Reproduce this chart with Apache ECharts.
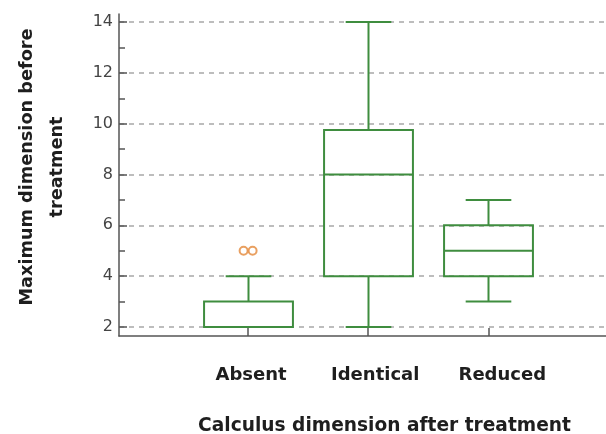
<!DOCTYPE html>
<html>
<head>
<meta charset="utf-8">
<script src="https://cdn.jsdelivr.net/npm/echarts@6/dist/echarts.min.js"></script>
<style>
html,body{margin:0;padding:0;background:#fff;}
#chart{width:606px;height:434px;}
</style>
</head>
<body>
<div id="chart"></div>
<script>
// ---- data ----
var categories = ['Absent', 'Identical', 'Reduced'];
var categoryPositions = [1, 2, 3];
var whiskerLow = [2, 2, 3];
var quartile1 = [2, 4, 4];
var medians = [2, 8, 5];
var quartile3 = [3, 9.75, 6];
var whiskerHigh = [4, 14, 7];
var outlierCategory = [1, 1];
var outlierValues = [5, 5];
var yTickValues = [2, 4, 6, 8, 10, 12, 14];
var yMinorTickValues = [3, 5, 7, 9, 11, 13];

var boxData = categories.map(function (c, i) {
  return [categoryPositions[i], whiskerLow[i], quartile1[i], medians[i], quartile3[i], whiskerHigh[i]];
});
var outlierData = outlierValues.map(function (v, i) {
  return { value: [outlierCategory[i], v], symbolOffset: [i === 0 ? -4.5 : 4.5, 0] };
});

var GREEN = '#3f8d3f';
var chart = echarts.init(document.getElementById('chart'), null, { renderer: 'canvas' });

function renderBox(params, api) {
  var x = api.value(0);
  var lo = api.coord([x, api.value(1)]);
  var q1 = api.coord([x, api.value(2)]);
  var md = api.coord([x, api.value(3)]);
  var q3 = api.coord([x, api.value(4)]);
  var hi = api.coord([x, api.value(5)]);
  var boxW = api.size([0.74, 0])[0];
  var capW = api.size([0.38, 0])[0];
  var cx = Math.round(lo[0]) + 0.5;
  var style = { stroke: GREEN, lineWidth: 2, fill: null };
  var children = [
    { type: 'rect', shape: { x: cx - boxW / 2, y: q3[1], width: boxW, height: q1[1] - q3[1] }, style: { stroke: GREEN, lineWidth: 2, fill: 'rgba(0,0,0,0)' } },
    { type: 'line', shape: { x1: cx - boxW / 2, y1: md[1], x2: cx + boxW / 2, y2: md[1] }, style: style },
    { type: 'line', shape: { x1: cx, y1: q3[1], x2: cx, y2: hi[1] }, style: style },
    { type: 'line', shape: { x1: cx - capW / 2, y1: hi[1], x2: cx + capW / 2, y2: hi[1] }, style: style }
  ];
  if (api.value(1) < api.value(2)) {
    children.push({ type: 'line', shape: { x1: cx, y1: q1[1], x2: cx, y2: lo[1] }, style: style });
    children.push({ type: 'line', shape: { x1: cx - capW / 2, y1: lo[1], x2: cx + capW / 2, y2: lo[1] }, style: style });
  }
  return { type: 'group', children: children };
}

var labelFont = { fontFamily: 'DejaVu Sans', fontWeight: 'bold', fontSize: 18, color: '#1e1e1e' };

var option = {
  backgroundColor: '#ffffff',
  animation: false,
  grid: { left: 119, right: 0, top: 14, bottom: 98, containLabel: false, outerBoundsMode: 'none' },
  xAxis: {
    type: 'value',
    min: -0.075,
    max: 3.98,
    splitNumber: 4,
    name: 'Calculus dimension after treatment',
    nameLocation: 'middle',
    nameGap: 81,
    nameTextStyle: { fontFamily: 'DejaVu Sans', fontWeight: 'bold', fontSize: 18.6, color: '#1e1e1e', padding: [0, 0, 0, 44] },
    axisLine: { show: true, onZero: false, lineStyle: { color: '#555555', width: 1.5 } },
    axisTick: { show: true, inside: true, length: 8, customValues: categoryPositions, lineStyle: { color: '#555555', width: 1.5 } },
    axisLabel: {
      customValues: categoryPositions,
      margin: 30,
      formatter: function (v) {
        var i = categoryPositions.indexOf(v);
        if (i < 0) return '';
        return '{c' + i + '|' + categories[i] + '}';
      },
      rich: {
        c0: Object.assign({ padding: [0, 0, 0, 6] }, labelFont),
        c1: Object.assign({ padding: [0, 0, 0, 14] }, labelFont),
        c2: Object.assign({ padding: [0, 0, 0, 28] }, labelFont)
      }
    },
    splitLine: { show: false }
  },
  yAxis: [{
    type: 'value',
    min: 1.646,
    max: 14.315,
    splitNumber: 6,
    name: 'Maximum dimension before\ntreatment',
    nameLocation: 'middle',
    nameGap: 47,
    nameRotate: 90,
    nameTextStyle: { fontFamily: 'DejaVu Sans', fontWeight: 'bold', fontSize: 17.7, lineHeight: 30, color: '#1e1e1e', padding: [0, 0, 0, 16] },
    axisLine: { show: true, onZero: false, lineStyle: { color: '#555555', width: 1.5 } },
    axisTick: { show: true, inside: true, length: 8, customValues: yTickValues, lineStyle: { color: '#555555', width: 1.5 } },
    axisLabel: { customValues: yTickValues, margin: 6, fontFamily: 'DejaVu Sans', fontSize: 16, color: '#444444' },
    splitLine: { show: true, lineStyle: { color: '#a8a8a8', width: 1.5, type: [5, 5] } }
  }, {
    type: 'value',
    min: 1.646,
    max: 14.315,
    splitNumber: 6,
    position: 'left',
    axisLine: { show: false, onZero: false },
    axisTick: { show: true, inside: true, length: 6, customValues: yMinorTickValues, lineStyle: { color: '#555555', width: 1.5 } },
    axisLabel: { show: false },
    splitLine: { show: false }
  }],
  series: [{
    type: 'custom',
    renderItem: renderBox,
    data: boxData,
    encode: { x: 0, y: [1, 2, 3, 4, 5] },
    z: 3
  }, {
    type: 'scatter',
    data: outlierData,
    symbol: 'emptyCircle',
    symbolSize: 8,
    itemStyle: { color: '#e4883a', borderColor: '#e4883a', borderWidth: 1.5 },
    z: 4
  }]
};
chart.setOption(option);
</script>
</body>
</html>
